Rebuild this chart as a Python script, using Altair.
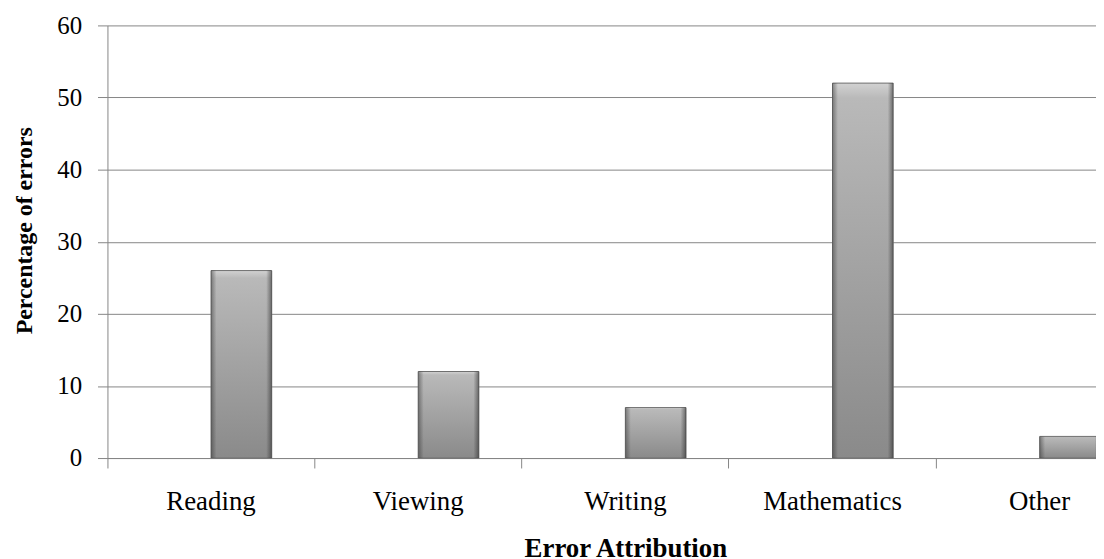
import altair as alt
import pandas as pd

# ---- data ----
categories = ["Reading", "Viewing", "Writing", "Mathematics", "Other"]
values = [26, 12, 7, 52, 3]
series = ["Errors", "Errors", "Errors", "Errors", "Errors"]
series_slots = ["Blank", "Errors"]
y_ticks = [0, 10, 20, 30, 40, 50, 60]

df = pd.DataFrame({"category": categories, "pct": values, "series": series})

# ---- style ----
FONT = "Liberation Serif"
GRID = "#868686"
BAND_RANGE = 1041.5  # category axis runs past the visible edge (cropped chart)

grad_v = {
    "gradient": "linear",
    "x1": 0, "x2": 0, "y1": 0, "y2": 1,
    "stops": [
        {"offset": 0.0, "color": "#d2d2d2"},
        {"offset": 0.04, "color": "#b9b9b9"},
        {"offset": 1.0, "color": "#8a8a8a"},
    ],
}
grad_h = {
    "gradient": "linear",
    "x1": 0, "x2": 1, "y1": 0, "y2": 0,
    "stops": [
        {"offset": 0.0, "color": "rgba(40,40,40,0.45)"},
        {"offset": 0.09, "color": "rgba(40,40,40,0.0)"},
        {"offset": 0.91, "color": "rgba(40,40,40,0.0)"},
        {"offset": 1.0, "color": "rgba(40,40,40,0.55)"},
    ],
}

x_enc = alt.X(
    "category:N",
    sort=categories,
    scale=alt.Scale(domain=categories, range=[0, BAND_RANGE], paddingInner=0, paddingOuter=0),
    axis=alt.Axis(
        title="Error Attribution",
        bandPosition=0,
        labelAngle=0,
        grid=False,
        ticks=True,
        tickSize=10,
        tickColor=GRID,
        domainColor=GRID,
        labelFont=FONT,
        labelFontSize=27,
        labelColor="#000000",
        labelPadding=21,
        titleFont=FONT,
        titleFontSize=27,
        titleFontWeight="bold",
        titleColor="#000000",
        titlePadding=21,
    ),
)
y_enc = alt.Y(
    "pct:Q",
    scale=alt.Scale(domain=[0, 60], nice=False),
    axis=alt.Axis(
        title="Percentage of errors",
        values=y_ticks,
        grid=True,
        gridColor=GRID,
        gridWidth=1,
        domainColor=GRID,
        tickColor=GRID,
        tickSize=10,
        labelFont=FONT,
        labelFontSize=25,
        labelColor="#000000",
        labelPadding=16,
        titleFont=FONT,
        titleFontSize=24,
        titleFontWeight="bold",
        titleColor="#000000",
        titlePadding=20,
        titleY=206,
    ),
)
xo_enc = alt.XOffset(
    "series:N",
    scale=alt.Scale(domain=series_slots, paddingInner=0, paddingOuter=0.707),
)

base = alt.Chart(df).encode(x=x_enc, y=y_enc, xOffset=xo_enc)

bars = base.mark_bar(color=grad_v, stroke="#6e6e6e", strokeWidth=1)
bevel = base.mark_bar(color=grad_h, strokeWidth=0)

chart = (
    alt.layer(bars, bevel)
    .properties(
        width=994,
        height=435,
        autosize=alt.AutoSizeParams(type="none"),
        padding={"left": 100, "top": 16, "right": 0, "bottom": 100},
        background="white",
    )
    .configure_view(stroke=None)
)

chart.save("out.html", embed_options={"renderer": "svg", "actions": False})
